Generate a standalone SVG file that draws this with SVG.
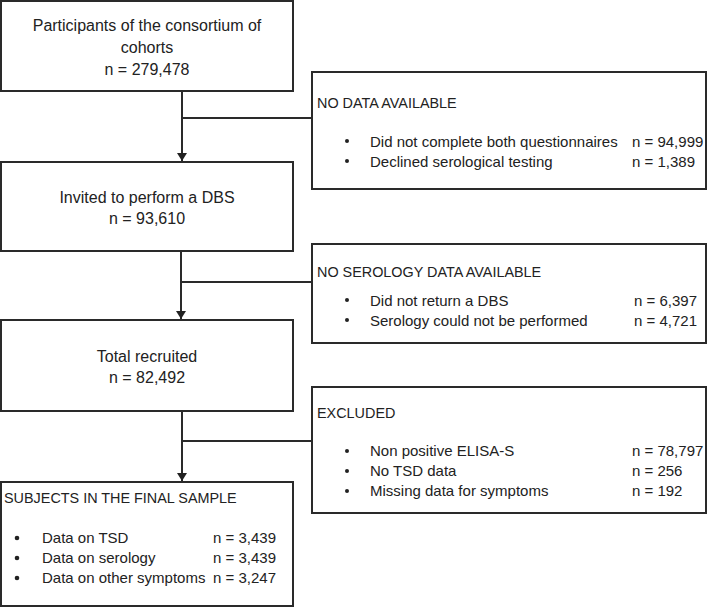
<svg xmlns="http://www.w3.org/2000/svg" width="710" height="608" viewBox="0 0 710 608">
<defs>
<marker id="arr" markerWidth="8" markerHeight="10" refX="8" refY="5" orient="auto" markerUnits="userSpaceOnUse">
<path d="M0,0 L8,5 L0,10 Z" fill="#222"/>
</marker>
<style>
.box{fill:#fff;stroke:#2a2a2a;stroke-width:2}
.t{font-family:"Liberation Sans",Arial,sans-serif;fill:#222}
.c{font-size:16px;text-anchor:middle}
.h{font-size:14.4px}
.b{font-size:15px}
.line{stroke:#2a2a2a;stroke-width:2;fill:none}
.dot{fill:#222}
</style>
</defs>
<rect width="710" height="608" fill="#fff"/>
<g id="connectors">
<line class="line" x1="182" y1="92" x2="182" y2="161" marker-end="url(#arr)"/>
<line class="line" x1="182" y1="118" x2="312" y2="118"/>
<line class="line" x1="181" y1="251" x2="181" y2="319" marker-end="url(#arr)"/>
<line class="line" x1="181" y1="282" x2="312" y2="282"/>
<line class="line" x1="182" y1="411" x2="182" y2="481" marker-end="url(#arr)"/>
<line class="line" x1="182" y1="441" x2="312" y2="441"/>
</g>
<g id="participants">
<rect class="box" x="1" y="1" width="292" height="90"/>
<text class="t c" x="147" y="31">Participants of the consortium of</text>
<text class="t c" x="147" y="53">cohorts</text>
<text class="t c" x="147" y="75">n = 279,478</text>
</g>
<g id="no-data">
<rect class="box" x="312" y="72" width="394" height="117"/>
<text class="t h" x="317" y="108">NO DATA AVAILABLE</text>
<circle class="dot" cx="347" cy="141" r="2"/>
<text class="t b" x="370" y="146.5">Did not complete both questionnaires</text>
<text class="t b" x="632" y="146.5">n = 94,999</text>
<circle class="dot" cx="347" cy="161" r="2"/>
<text class="t b" x="370" y="166.5">Declined serological testing</text>
<text class="t b" x="632" y="166.5">n = 1,389</text>
</g>
<g id="invited">
<rect class="box" x="1" y="162" width="292" height="89"/>
<text class="t c" x="147" y="203">Invited to perform a DBS</text>
<text class="t c" x="147" y="224">n = 93,610</text>
</g>
<g id="no-serology">
<rect class="box" x="312" y="244" width="394" height="99"/>
<text class="t h" x="317" y="277">NO SEROLOGY DATA AVAILABLE</text>
<circle class="dot" cx="347" cy="300" r="2"/>
<text class="t b" x="370" y="305.5">Did not return a DBS</text>
<text class="t b" x="634" y="305.5">n = 6,397</text>
<circle class="dot" cx="347" cy="320" r="2"/>
<text class="t b" x="370" y="325.5">Serology could not be performed</text>
<text class="t b" x="634" y="325.5">n = 4,721</text>
</g>
<g id="total-recruited">
<rect class="box" x="1" y="320" width="292" height="91"/>
<text class="t c" x="147" y="362">Total recruited</text>
<text class="t c" x="147" y="383">n = 82,492</text>
</g>
<g id="excluded">
<rect class="box" x="312" y="387" width="394" height="126"/>
<text class="t h" x="317" y="418">EXCLUDED</text>
<circle class="dot" cx="347" cy="451" r="2"/>
<text class="t b" x="370" y="456">Non positive ELISA-S</text>
<text class="t b" x="632" y="456">n = 78,797</text>
<circle class="dot" cx="347" cy="471" r="2"/>
<text class="t b" x="370" y="476">No TSD data</text>
<text class="t b" x="632" y="476">n = 256</text>
<circle class="dot" cx="347" cy="491" r="2"/>
<text class="t b" x="370" y="496">Missing data for symptoms</text>
<text class="t b" x="632" y="496">n = 192</text>
</g>
<g id="final-sample">
<rect class="box" x="1" y="482" width="292" height="124"/>
<text class="t h" x="4" y="503">SUBJECTS IN THE FINAL SAMPLE</text>
<circle class="dot" cx="17" cy="538" r="2.3"/>
<text class="t b" x="42" y="543">Data on TSD</text>
<text class="t b" x="213" y="543">n = 3,439</text>
<circle class="dot" cx="17" cy="558" r="2.3"/>
<text class="t b" x="42" y="563">Data on serology</text>
<text class="t b" x="213" y="563">n = 3,439</text>
<circle class="dot" cx="17" cy="578" r="2.3"/>
<text class="t b" x="42" y="583">Data on other symptoms</text>
<text class="t b" x="213" y="583">n = 3,247</text>
</g>
</svg>
